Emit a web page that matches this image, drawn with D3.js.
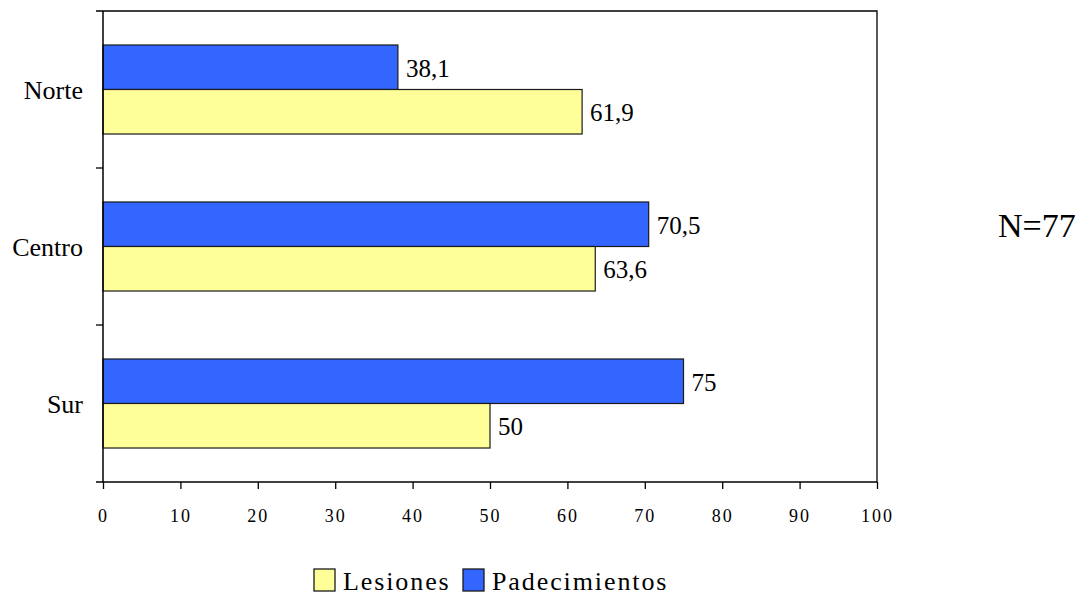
<!DOCTYPE html>
<html>
<head>
<meta charset="utf-8">
<script src="https://cdn.jsdelivr.net/npm/d3@7"></script>
<style>
  html, body { margin: 0; padding: 0; background: #fff; }
</style>
</head>
<body>
<svg id="chart" width="1084" height="596"></svg>
<script>
// Regions and percentages per type of health problem
const categories = ["Norte", "Centro", "Sur"];
const seriesNames = ["Padecimientos", "Lesiones"];
const padecimientos = [38.1, 70.5, 75];
const lesiones = [61.9, 63.6, 50];
const valueLabels = {
  Padecimientos: ["38,1", "70,5", "75"],
  Lesiones: ["61,9", "63,6", "50"]
};
const xTicks = [0, 10, 20, 30, 40, 50, 60, 70, 80, 90, 100];
const legendOrder = ["Lesiones", "Padecimientos"];
const sampleNote = "N=77";

const colors = { Lesiones: "#FFFF99", Padecimientos: "#3366FF" };
const FONT = "Liberation Serif";

const svg = d3.select("#chart");
const plot = { left: 103, right: 877, top: 11, bottom: 482 };

const x = d3.scaleLinear().domain([0, 100]).range([plot.left, plot.right]);
const y = d3.scaleBand().domain(categories).range([plot.top, plot.bottom])
  .paddingInner(0.433).paddingOuter(0.2165);
const ySub = d3.scaleBand().domain(seriesNames).range([0, y.bandwidth()]);

const rows = categories.map((c, i) => ({
  category: c,
  values: [
    { series: "Padecimientos", value: padecimientos[i], label: valueLabels.Padecimientos[i] },
    { series: "Lesiones", value: lesiones[i], label: valueLabels.Lesiones[i] }
  ]
}));

// Bars
const groups = svg.append("g").selectAll("g").data(rows).join("g")
  .attr("transform", d => `translate(0,${y(d.category)})`);

groups.selectAll("rect").data(d => d.values).join("rect")
  .attr("x", x(0))
  .attr("y", d => ySub(d.series))
  .attr("width", d => x(d.value) - x(0))
  .attr("height", ySub.bandwidth())
  .attr("fill", d => colors[d.series])
  .attr("stroke", "#1a1a1a")
  .attr("stroke-width", 1.2);

groups.selectAll("text").data(d => d.values).join("text")
  .attr("x", d => x(d.value) + 8)
  .attr("y", d => ySub(d.series) + ySub.bandwidth() / 2 + 9.5)
  .style("font-family", FONT)
  .style("font-size", "25px")
  .attr("fill", "#000")
  .text(d => d.label);

// Frame: top and right edges
svg.append("path")
  .attr("d", `M${plot.left - 7},${plot.top}H${plot.right}V${plot.bottom}`)
  .attr("fill", "none").attr("stroke", "#000").attr("stroke-width", 1.3);

// X axis
const xAxis = d3.axisBottom(x).tickValues(xTicks).tickSize(7).tickPadding(20)
  .tickFormat(d3.format("d"));
const gx = svg.append("g").attr("transform", `translate(0,${plot.bottom})`).call(xAxis);
gx.select(".domain").attr("stroke-width", 1.5).attr("d", `M${plot.left - 7},0H${plot.right}`);
gx.selectAll(".tick line").attr("stroke-width", 1.3);
gx.selectAll(".tick text")
  .style("font-family", FONT)
  .style("font-size", "18px")
  .style("letter-spacing", "2px")
  .attr("fill", "#000");

// Y axis: ticks at band boundaries, labels at band centres
const gy = svg.append("g");
gy.append("line")
  .attr("x1", plot.left).attr("x2", plot.left)
  .attr("y1", plot.top).attr("y2", plot.bottom)
  .attr("stroke", "#000").attr("stroke-width", 1.5);
const boundaries = categories.map(c => y(c) - y.step() * y.paddingInner() / 2);
gy.selectAll(".ytick").data(boundaries.slice(1)).join("line")
  .attr("class", "ytick")
  .attr("x1", plot.left - 7).attr("x2", plot.left)
  .attr("y1", d => d).attr("y2", d => d)
  .attr("stroke", "#000").attr("stroke-width", 1.3);
gy.selectAll("text").data(categories).join("text")
  .attr("x", plot.left - 20)
  .attr("y", d => y(d) + y.bandwidth() / 2 + 9.5)
  .attr("text-anchor", "end")
  .style("font-family", FONT)
  .style("font-size", "26px")
  .attr("fill", "#000")
  .text(d => d);

// Legend
const legend = svg.append("g");
const legendPos = { Lesiones: 314, Padecimientos: 463 };
legendOrder.forEach(name => {
  const lx = legendPos[name];
  legend.append("rect")
    .attr("x", lx).attr("y", 569).attr("width", 21).attr("height", 22)
    .attr("fill", colors[name]).attr("stroke", "#1a1a1a").attr("stroke-width", 1.3);
  legend.append("text")
    .attr("x", lx + 29).attr("y", 590)
    .style("font-family", FONT)
    .style("font-size", "26px")
    .style("letter-spacing", "1.9px")
    .attr("fill", "#000")
    .text(name);
});

// Sample size note
svg.append("text")
  .attr("x", 998).attr("y", 237)
  .style("font-family", FONT)
  .style("font-size", "34px")
  .attr("fill", "#000")
  .text(sampleNote);
</script>
</body>
</html>
